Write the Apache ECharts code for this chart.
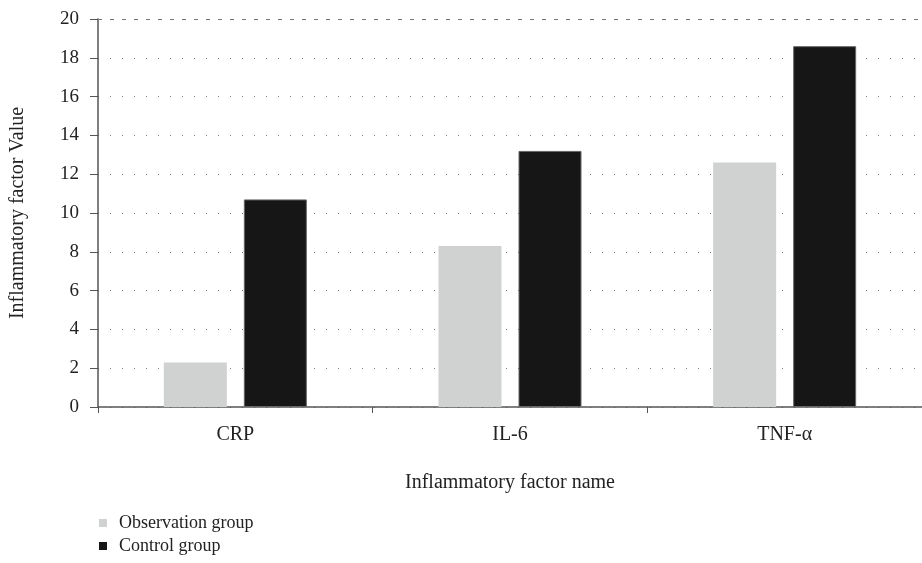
<!DOCTYPE html>
<html>
<head>
<meta charset="utf-8">
<script src="https://cdn.jsdelivr.net/npm/echarts@6/dist/echarts.min.js"></script>
<style>
    html, body { margin: 0; padding: 0; background: #fff; }
    #chart { width: 922px; height: 563px; }
</style>
</head>
<body>
<div id="chart"></div>
<script>
const categories = ['CRP', 'IL-6', 'TNF-α'];
const observationValues = [2.3, 8.3, 12.6];
const controlValues = [10.7, 13.2, 18.6];
const seriesNames = ['Observation group', 'Control group'];

const font = 'Liberation Serif';
const textColor = '#222';
const chart = echarts.init(document.getElementById('chart'));
chart.setOption({
    animation: false,
    textStyle: { fontFamily: font },
    // plot runs past the right edge, the picture is cropped there
    grid: { left: 98, top: 19, width: 836, height: 388, containLabel: false },
    legend: {
        orient: 'vertical',
        left: 99,
        top: 514,
        padding: 0,
        itemWidth: 8,
        itemHeight: 8,
        itemGap: 5,
        icon: 'rect',
        itemStyle: { borderWidth: 0 },
        textStyle: { fontFamily: font, fontSize: 18, color: textColor, padding: [0, 0, 0, 7] },
        data: seriesNames,
    },
    xAxis: {
        type: 'category',
        data: categories,
        name: 'Inflammatory factor name',
        nameLocation: 'middle',
        nameGap: 66,
        nameTextStyle: { fontFamily: font, fontSize: 20, color: textColor },
        axisLine: { lineStyle: { color: '#555', width: 1.5 } },
        axisTick: { show: true, length: 6, lineStyle: { color: '#555' } },
        axisLabel: { fontFamily: font, fontSize: 20, color: textColor, margin: 18 },
    },
    yAxis: {
        type: 'value',
        min: 0,
        max: 20,
        interval: 2,
        name: 'Inflammatory factor Value',
        nameLocation: 'middle',
        nameGap: 70,
        nameTextStyle: { fontFamily: font, fontSize: 20, color: textColor },
        axisLine: { show: true, lineStyle: { color: '#555', width: 1.5 } },
        axisTick: { show: true, length: 8, lineStyle: { color: '#555' } },
        axisLabel: { fontFamily: font, fontSize: 19, color: textColor, margin: 19 },
        splitLine: { show: true, lineStyle: { color: '#777', type: [1, 11], width: 1 } },
    },
    series: [
        {
            name: seriesNames[0],
            type: 'bar',
            data: observationValues,
            barWidth: 63,
            barGap: '27%',
            itemStyle: { color: '#d0d2d1' },
            markLine: {
                silent: true,
                symbol: 'none',
                label: { show: false },
                lineStyle: { color: '#777', type: [4, 8], width: 1 },
                data: [{ yAxis: 20 }],
            },
        },
        {
            name: seriesNames[1],
            type: 'bar',
            data: controlValues,
            barWidth: 63,
            itemStyle: { color: '#161616', borderColor: '#666', borderWidth: 1 },
        },
    ],
});
</script>
</body>
</html>
